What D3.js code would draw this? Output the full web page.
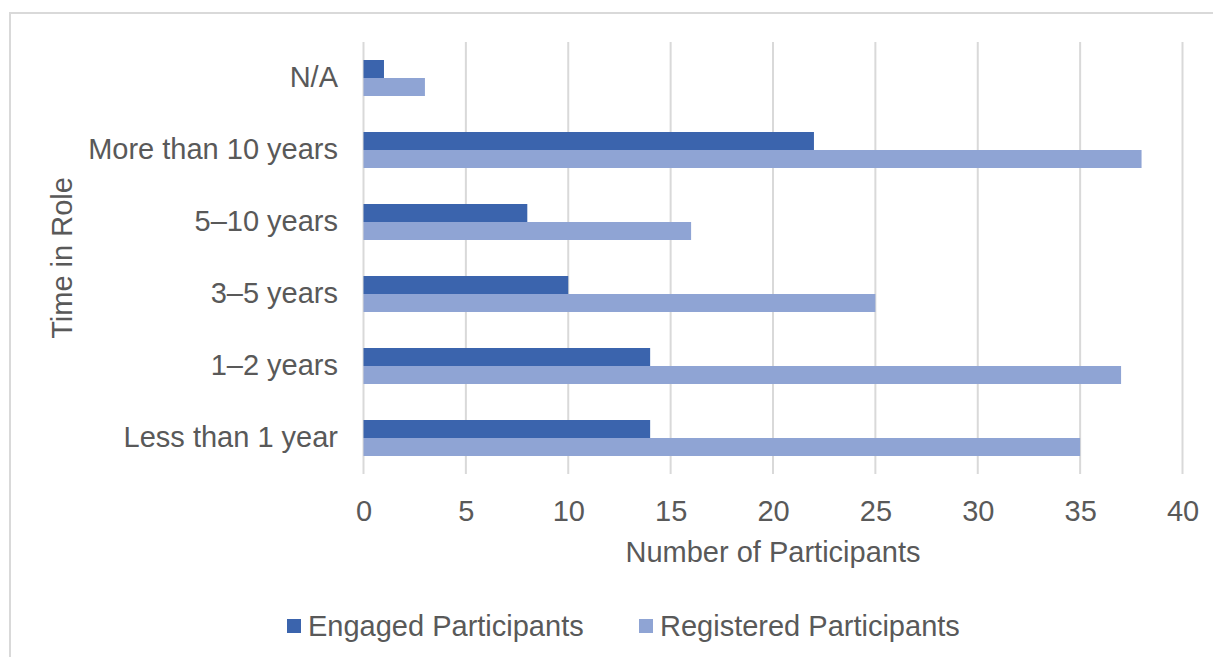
<!DOCTYPE html>
<html>
<head>
<meta charset="utf-8">
<script src="https://cdn.jsdelivr.net/npm/d3@7"></script>
<style>
  html, body { margin: 0; padding: 0; background: #fff; }
  svg { display: block; font-family: "Liberation Sans", Arial, sans-serif; }
</style>
</head>
<body>
<svg id="chart" width="1213" height="657"></svg>
<script>
// Time in role, listed top to bottom
const categories = ["N/A", "More than 10 years", "5\u201310 years", "3\u20135 years", "1\u20132 years", "Less than 1 year"];
const engaged    = [1, 22, 8, 10, 14, 14];
const registered = [3, 38, 16, 25, 37, 35];
const seriesNames = ["Engaged Participants", "Registered Participants"];
const xTicks = [0, 5, 10, 15, 20, 25, 30, 35, 40];

const colors = ["#3b64ad", "#8fa4d4"];
const textColor = "#595959";
const gridColor = "#d9d9d9";
const fontSize = "29px";

const svg = d3.select("#chart");

// outer chart frame
svg.append("rect")
  .attr("x", 10).attr("y", 13)
  .attr("width", 1240).attr("height", 700)
  .attr("fill", "none").attr("stroke", gridColor).attr("stroke-width", 2);

const plot = { left: 363.5, right: 1182.5, top: 42, bottom: 474 };

const x = d3.scaleLinear().domain([0, 40]).range([plot.left, plot.right]);
const y = d3.scaleBand().domain(categories).range([plot.top, plot.bottom]).paddingInner(0.5).paddingOuter(0.25);
const sub = d3.scaleBand().domain(seriesNames).range([0, y.bandwidth()]);

// vertical gridlines
svg.append("g")
  .selectAll("line")
  .data(xTicks)
  .join("line")
  .attr("x1", d => x(d)).attr("x2", d => x(d))
  .attr("y1", plot.top).attr("y2", plot.bottom)
  .attr("stroke", gridColor).attr("stroke-width", 2);

// bars
const rows = categories.map((c, i) => ({ c, vals: [engaged[i], registered[i]] }));
const groups = svg.append("g").selectAll("g")
  .data(rows)
  .join("g")
  .attr("transform", d => `translate(0,${y(d.c)})`);

groups.selectAll("rect")
  .data(d => d.vals.map((v, j) => ({ v, s: seriesNames[j], j })))
  .join("rect")
  .attr("x", x(0))
  .attr("y", d => sub(d.s))
  .attr("width", d => x(d.v) - x(0))
  .attr("height", sub.bandwidth())
  .attr("fill", d => colors[d.j]);

// x axis tick labels
const xAxis = d3.axisBottom(x).tickValues(xTicks).tickSize(0).tickPadding(0);
const gx = svg.append("g")
  .attr("transform", `translate(0,${plot.bottom + 37})`)
  .call(xAxis);
gx.select(".domain").remove();
gx.selectAll("text")
  .attr("dy", "0.35em")
  .attr("y", 0)
  .attr("fill", textColor)
  .style("font-size", fontSize)
  .style("font-family", "Liberation Sans, Arial, sans-serif");

// y axis category labels
const yAxis = d3.axisLeft(y).tickSize(0).tickPadding(0);
const gy = svg.append("g")
  .attr("transform", `translate(338,0)`)
  .call(yAxis);
gy.select(".domain").remove();
gy.selectAll("text")
  .attr("fill", textColor)
  .style("font-size", fontSize)
  .style("font-family", "Liberation Sans, Arial, sans-serif");

// axis titles
svg.append("text")
  .attr("x", (plot.left + plot.right) / 2).attr("y", 552)
  .attr("text-anchor", "middle").attr("dy", "0.35em")
  .attr("fill", textColor).style("font-size", fontSize)
  .text("Number of Participants");

svg.append("text")
  .attr("transform", `translate(62,${(plot.top + plot.bottom) / 2}) rotate(-90)`)
  .attr("text-anchor", "middle").attr("dy", "0.35em")
  .attr("fill", textColor).style("font-size", fontSize)
  .text("Time in Role");

// legend
const legendItems = [
  { name: seriesNames[0], color: colors[0], x: 287 },
  { name: seriesNames[1], color: colors[1], x: 639 }
];
const lg = svg.append("g").selectAll("g")
  .data(legendItems)
  .join("g")
  .attr("transform", d => `translate(${d.x},626)`);
lg.append("rect")
  .attr("x", 0).attr("y", -7).attr("width", 14).attr("height", 14)
  .attr("fill", d => d.color);
lg.append("text")
  .attr("x", 21).attr("dy", "0.35em")
  .attr("fill", textColor).style("font-size", fontSize)
  .text(d => d.name);
</script>
</body>
</html>
